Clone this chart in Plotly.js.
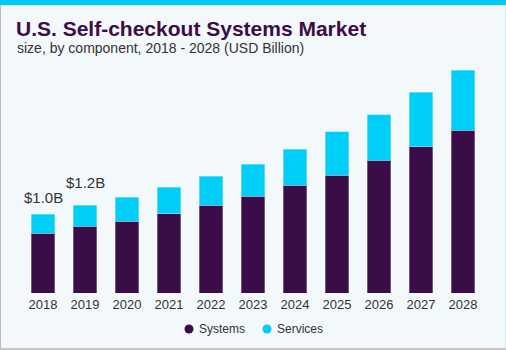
<!DOCTYPE html>
<html>
<head>
<meta charset="utf-8">
<script src="https://cdn.plot.ly/plotly-3.0.1.min.js"></script>
<style>
  html, body { margin: 0; padding: 0; background: #f3f8fb; }
  #wrap { position: relative; width: 506px; height: 350px; overflow: hidden; }
  #chart { position: absolute; left: 0; top: 0; width: 506px; height: 350px; }
  #topbar { position: absolute; left: 0; top: 0; width: 506px; height: 5px; background: #00cbf2; }
  #lb { position: absolute; left: 0; top: 5px; width: 1px; height: 345px; background: #b9bcbe; }
  #rb { position: absolute; right: 0; top: 5px; width: 1px; height: 345px; background: #cfe9f2; }
  #bb { position: absolute; left: 0; bottom: 0; width: 506px; height: 2px; background: #c4c7c9; }
</style>
</head>
<body>
<div id="wrap">
  <div id="chart"></div>
  <div id="topbar"></div>
  <div id="lb"></div>
  <div id="rb"></div>
  <div id="bb"></div>
</div>
<script>
const years = ["2018","2019","2020","2021","2022","2023","2024","2025","2026","2027","2028"];
const systems = [0.80, 0.89, 0.96, 1.06, 1.17, 1.29, 1.44, 1.57, 1.77, 1.95, 2.17];
const services = [0.25, 0.28, 0.32, 0.35, 0.39, 0.43, 0.48, 0.58, 0.61, 0.73, 0.80];
const seriesNames = ["Systems", "Services"];
const seriesColors = ["#3b0d48", "#00cef6"];
const labelYears = ["2018", "2019"];
const labelTexts = ["$1.0B", "$1.2B"];

const FONT = 'Liberation Sans, Arial, sans-serif';
const totals = systems.map((v, i) => v + services[i]);
const idx = years.map((_, i) => i);
const labelShift = [6, 12];

// plot area geometry (px): left 22, width 462, bottom 293, height 225
const PL = 22, PW = 462, PB = 293, PH = 225;
const px2x = p => (p - PL) / PW;
const px2y = p => (PB - p) / PH;

const traces = [
  { type: 'bar', name: seriesNames[0], x: idx, y: systems, showlegend: false,
    marker: { color: seriesColors[0], line: { width: 0.6, color: '#9a86a3' } }, width: 0.57, hoverinfo: 'skip' },
  { type: 'bar', name: seriesNames[1], x: idx, y: services, showlegend: false,
    marker: { color: seriesColors[1], line: { width: 0.6, color: '#8fe6f8' } }, width: 0.57, hoverinfo: 'skip' }
];

const annotations = labelYears.map((yr, k) => {
  const i = years.indexOf(yr);
  return { x: i, y: totals[i], xref: 'x', yref: 'y', text: labelTexts[k],
    showarrow: false, yanchor: 'bottom', yshift: labelShift[k],
    font: { family: FONT, size: 15, color: '#333333' } };
});
annotations.push({
  xref: 'paper', yref: 'paper', x: px2x(15), y: px2y(48),
  xanchor: 'left', yanchor: 'middle', showarrow: false,
  text: 'size, by component, 2018 - 2028 (USD Billion)',
  font: { family: FONT, size: 14, color: '#333333' }
});

// legend (drawn manually to match spacing)
const legendMarkerX = [189, 267];
const legendY = 329;
const shapes = [];
seriesNames.forEach((nm, k) => {
  const cx = legendMarkerX[k];
  shapes.push({ type: 'circle', xref: 'paper', yref: 'paper',
    x0: px2x(cx - 4.5), x1: px2x(cx + 4.5), y0: px2y(legendY + 4.5), y1: px2y(legendY - 4.5),
    fillcolor: seriesColors[k], line: { width: 0 } });
  annotations.push({ xref: 'paper', yref: 'paper', x: px2x(cx + 8), y: px2y(legendY),
    xanchor: 'left', yanchor: 'middle', showarrow: false, text: nm,
    font: { family: FONT, size: 12, color: '#333333' } });
});

const layout = {
  width: 506, height: 350,
  margin: { l: PL, r: 506 - PL - PW, t: 350 - PB - 0 - (350 - PB) + (PB - PH), b: 350 - PB, pad: 0 },
  paper_bgcolor: '#f3f8fb', plot_bgcolor: '#f3f8fb',
  barmode: 'stack',
  showlegend: false,
  title: { text: '<b>U.S. Self-checkout Systems Market</b>', xref: 'container', yref: 'container',
    x: 16 / 506, xanchor: 'left', y: 1 - 29 / 350, yanchor: 'middle',
    font: { family: FONT, size: 21, color: '#3b0d48' } },
  xaxis: { range: [-0.5, 10.5], showgrid: false, zeroline: false, showline: false,
    tickmode: 'array', tickvals: idx, ticktext: years, ticks: '', automargin: false,
    ticklabelstandoff: 2,
    tickfont: { family: FONT, size: 13, color: '#333333' }, fixedrange: true },
  yaxis: { range: [0, 3.0], visible: false, showgrid: false, zeroline: false, fixedrange: true, automargin: false },
  shapes: shapes,
  annotations: annotations
};

Plotly.newPlot('chart', traces, layout, { displayModeBar: false, staticPlot: true });
</script>
</body>
</html>
